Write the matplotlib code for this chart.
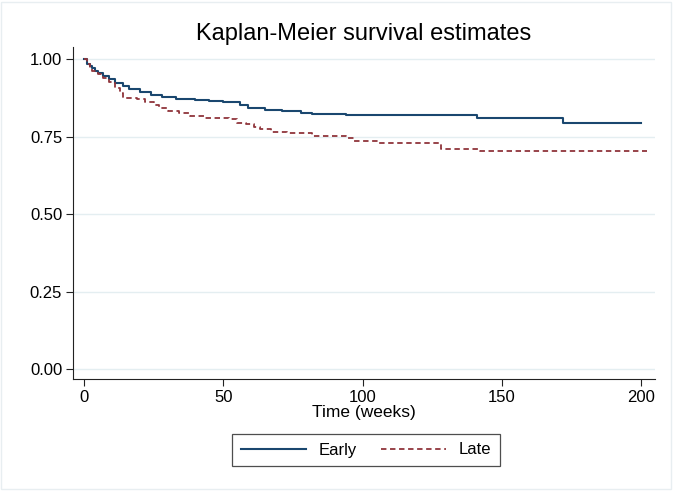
import matplotlib
matplotlib.use("Agg")
import matplotlib.pyplot as plt
from matplotlib.patches import Rectangle

plt.rcParams['font.family'] = ['Liberation Sans', 'DejaVu Sans']

# Kaplan-Meier step points (time in weeks, survival)
early_t = [0, 1, 2, 3, 4, 5, 7, 9, 11, 14, 16, 20, 24, 28, 33, 40, 45, 50,
           56, 59, 65, 71, 78, 82, 94, 141, 172, 200]
early_s = [1.0, 0.985, 0.978, 0.970, 0.962, 0.955, 0.945, 0.935, 0.922, 0.912,
           0.902, 0.893, 0.885, 0.878, 0.872, 0.868, 0.863, 0.860, 0.852, 0.842,
           0.836, 0.832, 0.827, 0.822, 0.818, 0.810, 0.795, 0.795]

late_t = [0, 1, 2, 3, 5, 7, 9, 11, 13, 14, 19, 22, 25, 27, 30, 34, 38, 43, 52,
          55, 58, 61, 63, 67, 73, 82, 94, 97, 106, 128, 142, 202]
late_s = [1.0, 0.985, 0.972, 0.962, 0.952, 0.940, 0.925, 0.905, 0.890, 0.875,
          0.871, 0.862, 0.852, 0.843, 0.832, 0.826, 0.815, 0.810, 0.806, 0.795,
          0.790, 0.782, 0.773, 0.766, 0.760, 0.752, 0.744, 0.734, 0.729, 0.711,
          0.703, 0.703]

yticks = [0, 0.25, 0.5, 0.75, 1.0]
xticks = [0, 50, 100, 150, 200]

fig = plt.figure(figsize=(6.85, 4.91), dpi=100)
fig.patches.append(Rectangle((0.002, 0.004), 0.978, 0.992, transform=fig.transFigure,
                             fill=False, edgecolor='#e8eef1', linewidth=1))
ax = fig.add_axes([0.107, 0.2275, 0.849, 0.677])

ax.step(early_t, early_s, where='post', color='#1a476f', linewidth=1.5, label='Early')
ax.step(late_t, late_s, where='post', color='#90353b', linewidth=1.3,
        linestyle=(0, (3, 2)), label='Late')

ax.set_xlim(-3.84, 204.9)
ax.set_ylim(-0.033, 1.039)
ax.set_yticks(yticks)
ax.set_yticklabels(['%.2f' % v for v in yticks])
ax.set_xticks(xticks)
ax.grid(axis='y', color='#e4eef1', linewidth=1)
ax.set_axisbelow(True)
for s in ['top', 'right']:
    ax.spines[s].set_visible(False)
for s in ['left', 'bottom']:
    ax.spines[s].set_color('#222222')
ax.tick_params(axis='both', labelsize=12, length=5, color='#222222', pad=3)

ax.set_xlabel('Time (weeks)', fontsize=12.5, labelpad=0)
ax.set_title('Kaplan-Meier survival estimates', fontsize=17, pad=5)

leg = fig.legend(loc='center', bbox_to_anchor=(366 / 685, 1 - 450 / 491), ncol=2,
                 fontsize=12, frameon=True, fancybox=False, handlelength=3.9,
                 columnspacing=1.5, borderpad=0.5, handletextpad=0.75,
                 borderaxespad=0)
leg.get_frame().set_edgecolor('#222222')
leg.get_frame().set_linewidth(0.9)

fig.savefig('out.png', dpi=100)
